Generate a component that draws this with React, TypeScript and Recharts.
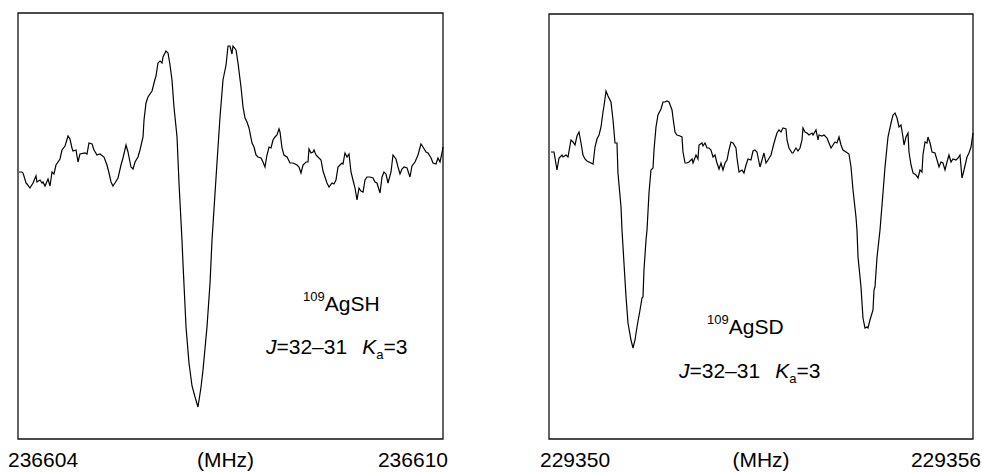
import { LineChart, Line, XAxis, YAxis, ReferenceArea } from "recharts";

// 109AgSH, J=32-31 Ka=3 — frequency in MHz above 236604, intensity in arbitrary units
const SH_TICKS = [0, 3, 6];
const SH_TICK_LABELS = ["236604", "(MHz)", "236610"];
const SH_FREQ = [
  0.014, 0.056, 0.071, 0.113, 0.127, 0.169, 0.212, 0.254, 0.268, 0.311, 0.339, 0.353, 0.381, 0.424, 0.452,
  0.48, 0.508, 0.536, 0.565, 0.593, 0.621, 0.664, 0.706, 0.734, 0.762, 0.776, 0.819, 0.847, 0.875, 0.946,
  0.974, 1.002, 1.045, 1.073, 1.115, 1.158, 1.214, 1.256, 1.285, 1.313, 1.341, 1.369, 1.412, 1.454, 1.482,
  1.525, 1.553, 1.595, 1.624, 1.652, 1.694, 1.722, 1.765, 1.779, 1.807, 1.835, 1.892, 1.92, 1.948, 1.976,
  2.005, 2.033, 2.047, 2.089, 2.118, 2.146, 2.174, 2.202, 2.245, 2.273, 2.315, 2.329, 2.372, 2.414, 2.457,
  2.499, 2.541, 2.584, 2.612, 2.668, 2.711, 2.739, 2.809, 2.852, 2.894, 2.937, 2.965, 2.993, 3.021, 3.035,
  3.078, 3.106, 3.148, 3.177, 3.205, 3.233, 3.261, 3.304, 3.332, 3.36, 3.388, 3.431, 3.459, 3.487, 3.515,
  3.544, 3.572, 3.6, 3.628, 3.656, 3.685, 3.699, 3.727, 3.755, 3.798, 3.84, 3.882, 3.939, 3.967, 3.995,
  4.024, 4.066, 4.094, 4.108, 4.137, 4.165, 4.179, 4.207, 4.235, 4.278, 4.306, 4.334, 4.362, 4.391, 4.433,
  4.461, 4.489, 4.518, 4.546, 4.574, 4.588, 4.616, 4.645, 4.673, 4.701, 4.729, 4.758, 4.786, 4.814, 4.842,
  4.871, 4.899, 4.927, 4.969, 5.012, 5.04, 5.068, 5.111, 5.139, 5.167, 5.195, 5.224, 5.266, 5.294, 5.336,
  5.365, 5.393, 5.421, 5.449, 5.492, 5.534, 5.562, 5.605, 5.647, 5.689, 5.718, 5.76, 5.788, 5.831, 5.859,
  5.901, 5.929, 5.958, 5.986, 6.0,
];
const SH_INT = [
  267, 267, 266, 256, 255, 251, 256, 263, 257, 259, 256, 257, 253, 260, 253,
  267, 265, 274, 277, 280, 289, 293, 303, 300, 291, 288, 289, 277, 285, 286,
  285, 296, 295, 289, 284, 285, 282, 274, 266, 257, 253, 256, 261, 274, 281,
  294, 287, 272, 270, 277, 282, 289, 302, 319, 336, 342, 348, 356, 363, 376,
  378, 376, 382, 388, 386, 374, 359, 332, 302, 256, 199, 176, 112, 76, 53,
  42, 32, 52, 69, 112, 156, 199, 276, 322, 359, 374, 393, 393, 385, 393,
  389, 376, 352, 332, 321, 317, 311, 296, 292, 284, 282, 281, 277, 272, 284,
  292, 291, 299, 302, 304, 310, 307, 291, 284, 282, 276, 276, 274, 272, 266,
  274, 277, 277, 290, 286, 287, 289, 284, 282, 279, 268, 262, 256, 252, 256,
  255, 259, 272, 274, 276, 275, 286, 282, 285, 267, 259, 251, 239, 251, 248,
  247, 259, 262, 262, 261, 257, 256, 246, 262, 267, 265, 256, 267, 284, 280,
  272, 265, 270, 272, 271, 262, 273, 277, 284, 295, 292, 287, 286, 281, 276,
  275, 281, 277, 286, 292,
];

// 109AgSD, J=32-31 Ka=3 — frequency in MHz above 229350
const SD_TICKS = [0, 3, 6];
const SD_TICK_LABELS = ["229350", "(MHz)", "229356"];
const SD_FREQ = [
  0.028, 0.071, 0.113, 0.142, 0.184, 0.198, 0.241, 0.269, 0.311, 0.34, 0.368, 0.396, 0.425, 0.453, 0.481,
  0.509, 0.538, 0.566, 0.623, 0.651, 0.679, 0.708, 0.736, 0.764, 0.778, 0.807, 0.835, 0.877, 0.906, 0.934,
  0.962, 0.976, 1.019, 1.033, 1.061, 1.09, 1.118, 1.16, 1.189, 1.217, 1.245, 1.288, 1.316, 1.33, 1.344,
  1.373, 1.387, 1.415, 1.443, 1.472, 1.486, 1.514, 1.542, 1.585, 1.613, 1.642, 1.67, 1.698, 1.741, 1.755,
  1.783, 1.811, 1.854, 1.882, 1.896, 1.925, 1.953, 1.981, 2.024, 2.038, 2.08, 2.108, 2.123, 2.165, 2.179,
  2.208, 2.236, 2.264, 2.292, 2.321, 2.349, 2.377, 2.406, 2.434, 2.462, 2.491, 2.519, 2.547, 2.575, 2.604,
  2.646, 2.66, 2.689, 2.731, 2.759, 2.788, 2.816, 2.858, 2.887, 2.915, 2.943, 2.986, 3.014, 3.042, 3.071,
  3.099, 3.142, 3.184, 3.226, 3.255, 3.283, 3.311, 3.354, 3.368, 3.396, 3.439, 3.453, 3.495, 3.524, 3.552,
  3.58, 3.594, 3.623, 3.651, 3.679, 3.722, 3.736, 3.778, 3.807, 3.821, 3.863, 3.892, 3.934, 3.962, 3.991,
  4.019, 4.047, 4.075, 4.104, 4.132, 4.16, 4.203, 4.245, 4.274, 4.302, 4.344, 4.358, 4.373, 4.415, 4.443,
  4.472, 4.5, 4.514, 4.542, 4.585, 4.599, 4.613, 4.642, 4.684, 4.726, 4.755, 4.797, 4.84, 4.868, 4.896,
  4.925, 4.953, 4.981, 5.009, 5.024, 5.052, 5.08, 5.094, 5.123, 5.151, 5.193, 5.222, 5.25, 5.278, 5.292,
  5.321, 5.349, 5.363, 5.392, 5.42, 5.462, 5.491, 5.519, 5.547, 5.575, 5.604, 5.632, 5.66, 5.689, 5.717,
  5.759, 5.788, 5.816, 5.844, 5.873, 5.915, 5.943, 5.972, 6.0,
];
const SD_INT = [
  287, 287, 269, 281, 284, 282, 284, 282, 299, 297, 294, 303, 307, 296, 284,
  280, 278, 277, 275, 292, 300, 304, 312, 327, 333, 348, 343, 337, 319, 296,
  296, 266, 232, 209, 176, 142, 116, 99, 91, 99, 112, 129, 141, 142, 169,
  199, 209, 246, 269, 271, 289, 312, 324, 330, 337, 337, 338, 337, 329, 321,
  307, 304, 303, 302, 287, 276, 276, 277, 280, 276, 284, 280, 294, 296, 293,
  296, 291, 291, 289, 282, 284, 276, 270, 276, 269, 276, 279, 289, 297, 296,
  291, 281, 267, 269, 266, 274, 280, 279, 288, 289, 287, 272, 279, 286, 276,
  279, 284, 296, 306, 309, 307, 311, 310, 299, 291, 286, 286, 291, 288, 291,
  299, 311, 307, 306, 304, 306, 304, 309, 299, 304, 303, 304, 301, 296, 291,
  294, 297, 296, 302, 294, 289, 287, 285, 272, 249, 222, 209, 182, 152, 121,
  111, 112, 111, 119, 129, 149, 152, 182, 209, 246, 272, 302, 316, 324, 326,
  321, 312, 314, 302, 294, 302, 306, 287, 274, 266, 264, 261, 269, 267, 284,
  297, 296, 302, 296, 287, 286, 279, 272, 277, 276, 269, 277, 284, 277, 280,
  279, 281, 284, 261, 269, 282, 286, 292, 306,
];

const FONT = '"Liberation Sans", Arial, Helvetica, sans-serif';
const PANEL_W = 491;
const PANEL_H = 472;
const TICK_BASELINE = 467;

function makeTick(labels: string[], anchors: string[], dxs: number[]) {
  return (props: any) => {
    const { x, index } = props;
    return (
      <text x={x + dxs[index]} y={TICK_BASELINE} textAnchor={anchors[index]} fontSize={21} fontFamily={FONT} fill="#000">
        {labels[index]}
      </text>
    );
  };
}

function Panel({
  freq,
  intensity,
  ticks,
  labels,
  dxs,
  yMax,
  margin,
  species,
  supX,
  supY,
  jX,
  jY,
}: any) {
  const data = freq.map((f: number, i: number) => ({ f, v: intensity[i] }));
  return (
    <div style={{ position: "relative", width: PANEL_W, height: PANEL_H }}>
      <LineChart width={PANEL_W} height={PANEL_H} data={data} margin={margin}>
        <XAxis
          type="number"
          dataKey="f"
          domain={[0, 6]}
          ticks={ticks}
          interval={0}
          axisLine={false}
          tickLine={false}
          height={30}
          tick={makeTick(labels, ["start", "middle", "end"], dxs)}
        />
        <YAxis hide type="number" domain={[0, yMax]} />
        <Line type="linear" dataKey="v" stroke="#000" strokeWidth={1.2} dot={false} isAnimationActive={false} />
        <ReferenceArea x1={0} x2={6} y1={0} y2={yMax} fill="none" stroke="#111" strokeWidth={1.3} />
      </LineChart>
      <svg width={PANEL_W} height={PANEL_H} style={{ position: "absolute", left: 0, top: 0, pointerEvents: "none" }}>
        <text x={supX} y={supY} fontFamily={FONT} fill="#000">
          <tspan fontSize={13} dy={-10}>109</tspan>
          <tspan fontSize={21} dy={10}>{species}</tspan>
        </text>
        <text x={jX} y={jY} fontFamily={FONT} fontSize={21} fill="#000">
          <tspan fontStyle="italic">J</tspan>
          <tspan>=32–31</tspan>
          <tspan dx={15} fontStyle="italic">K</tspan>
          <tspan fontSize={13} dy={5}>a</tspan>
          <tspan dy={-5}>=3</tspan>
        </text>
      </svg>
    </div>
  );
}

export default function App() {
  return (
    <div style={{ position: "absolute", left: 0, top: 0, width: 982, height: 472, background: "#fff", fontFamily: FONT }}>
      <div style={{ position: "absolute", left: 0, top: 0 }}>
        <Panel
          freq={SH_FREQ}
          intensity={SH_INT}
          ticks={SH_TICKS}
          labels={SH_TICK_LABELS}
          dxs={[-10, -5, 5]}
          yMax={426}
          margin={{ top: 13, left: 18, right: 48, bottom: 3 }}
          species="AgSH"
          supX={303}
          supY={311}
          jX={266}
          jY={354}
        />
      </div>
      <div style={{ position: "absolute", left: PANEL_W, top: 0 }}>
        <Panel
          freq={SD_FREQ}
          intensity={SD_INT}
          ticks={SD_TICKS}
          labels={SD_TICK_LABELS}
          dxs={[-9, 0, 8]}
          yMax={425}
          margin={{ top: 14, left: 58, right: 9, bottom: 3 }}
          species="AgSD"
          supX={216}
          supY={334}
          jX={188}
          jY={378}
        />
      </div>
    </div>
  );
}
